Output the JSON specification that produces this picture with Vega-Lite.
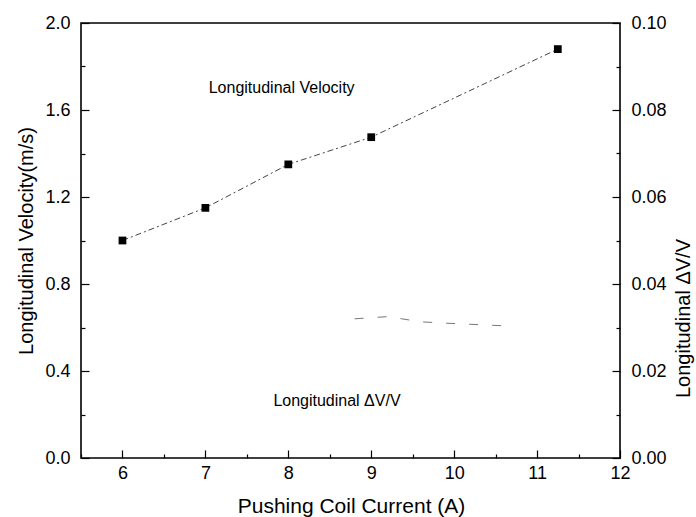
{
  "$schema": "https://vega.github.io/schema/vega-lite/v6.json",
  "width": 539,
  "height": 435,
  "autosize": {"type": "none"},
  "padding": {"left": 81, "top": 23, "right": 76, "bottom": 59},
  "background": "white",
  "config": {
    "font": "Liberation Sans",
    "view": {"stroke": "black", "strokeWidth": 1.6},
    "axis": {"grid": false, "domain": false, "tickColor": "black", "labelColor": "black", "titleColor": "black", "labelFont": "Liberation Sans", "titleFont": "Liberation Sans", "labelFontSize": 18, "titleFontSize": 20, "titleFontWeight": "normal", "tickWidth": 1.2, "labelAngle": 0}
  },
  "datasets": {
    "velocity": [
      {"current": 6, "velocity": 1.0},
      {"current": 7, "velocity": 1.15},
      {"current": 8, "velocity": 1.35},
      {"current": 9, "velocity": 1.475},
      {"current": 11.25, "velocity": 1.88}
    ],
    "dvv": [
      {"current": 8.8, "dvv": 0.032},
      {"current": 9.2, "dvv": 0.0325},
      {"current": 9.6, "dvv": 0.0313},
      {"current": 9.9, "dvv": 0.031},
      {"current": 10.7, "dvv": 0.0303}
    ],
    "labels": [
      {"label": "Longitudinal Velocity"}
    ],
    "labels2": [
      {"label": "Longitudinal ΔV/V"}
    ]
  },
  "layer": [
    {
      "layer": [
        {
          "data": {"name": "velocity"},
          "mark": {"type": "line", "color": "#444", "strokeWidth": 1, "strokeDash": [6, 3, 2, 3]},
          "encoding": {
            "x": {"field": "current", "type": "quantitative", "scale": {"domain": [5.5, 12], "nice": false, "zero": false},
              "axis": {"orient": "bottom", "values": [5.5, 6, 6.5, 7, 7.5, 8, 8.5, 9, 9.5, 10, 10.5, 11, 11.5, 12],
                "labelExpr": "datum.value % 1 == 0 ? format(datum.value, 'd') : ''",
                "tickSize": {"condition": {"test": "datum.value % 1 == 0", "value": -8}, "value": -4},
                "labelPadding": 14, "title": "Pushing Coil Current (A)", "titleFontSize": 21,
                "titleX": 270, "titleY": 54, "titleBaseline": "alphabetic", "titleAlign": "center", "labelFlush": false}},
            "y": {"field": "velocity", "type": "quantitative", "scale": {"domain": [0, 2], "nice": false},
              "axis": {"orient": "left", "values": [0, 0.2, 0.4, 0.6, 0.8, 1.0, 1.2, 1.4, 1.6, 1.8, 2.0],
                "labelExpr": "round(datum.value * 10) % 4 == 0 ? format(datum.value, '.1f') : ''",
                "tickSize": {"condition": {"test": "round(datum.value * 10) % 4 == 0", "value": -8}, "value": -4},
                "labelPadding": 19, "title": "Longitudinal Velocity(m/s)",
                "titleAngle": 270, "titleX": -55, "titleY": 217.5, "titleBaseline": "middle", "titleAlign": "center", "labelFlush": false}}
          }
        },
        {
          "data": {"name": "velocity"},
          "mark": {"type": "point", "shape": "square", "filled": true, "color": "black", "size": 60, "opacity": 1},
          "encoding": {
            "x": {"field": "current", "type": "quantitative"},
            "y": {"field": "velocity", "type": "quantitative"}
          }
        },
        {
          "data": {"name": "labels"},
          "mark": {"type": "text", "align": "left", "baseline": "middle", "fontSize": 16, "color": "black", "font": "Liberation Sans"},
          "encoding": {
            "x": {"datum": 7.04, "type": "quantitative"},
            "y": {"datum": 1.7, "type": "quantitative"},
            "text": {"field": "label", "type": "nominal"}
          }
        },
        {
          "data": {"name": "labels2"},
          "mark": {"type": "text", "align": "left", "baseline": "middle", "fontSize": 16, "color": "black", "font": "Liberation Sans"},
          "encoding": {
            "x": {"datum": 7.82, "type": "quantitative"},
            "y": {"datum": 0.264, "type": "quantitative"},
            "text": {"field": "label", "type": "nominal"}
          }
        }
      ]
    },
    {
      "data": {"name": "dvv"},
      "mark": {"type": "line", "color": "#777", "strokeWidth": 1, "strokeDash": [9, 14]},
      "encoding": {
        "x": {"field": "current", "type": "quantitative", "scale": {"domain": [5.5, 12], "nice": false, "zero": false}},
        "y": {"field": "dvv", "type": "quantitative", "scale": {"domain": [0, 0.1], "nice": false},
          "axis": {"orient": "right", "values": [0, 0.01, 0.02, 0.03, 0.04, 0.05, 0.06, 0.07, 0.08, 0.09, 0.1],
            "labelExpr": "round(datum.value * 100) % 2 == 0 ? format(datum.value, '.2f') : ''",
            "tickSize": {"condition": {"test": "round(datum.value * 100) % 2 == 0", "value": -8}, "value": -4},
            "labelPadding": 19, "title": "Longitudinal    ΔV/V", "titleAngle": 270, "titleX": 63, "titleY": 295, "titleAlign": "center", "titleBaseline": "middle", "labelFlush": false}}
      }
    }
  ],
  "resolve": {"scale": {"y": "independent"}, "axis": {"y": "independent"}}
}
